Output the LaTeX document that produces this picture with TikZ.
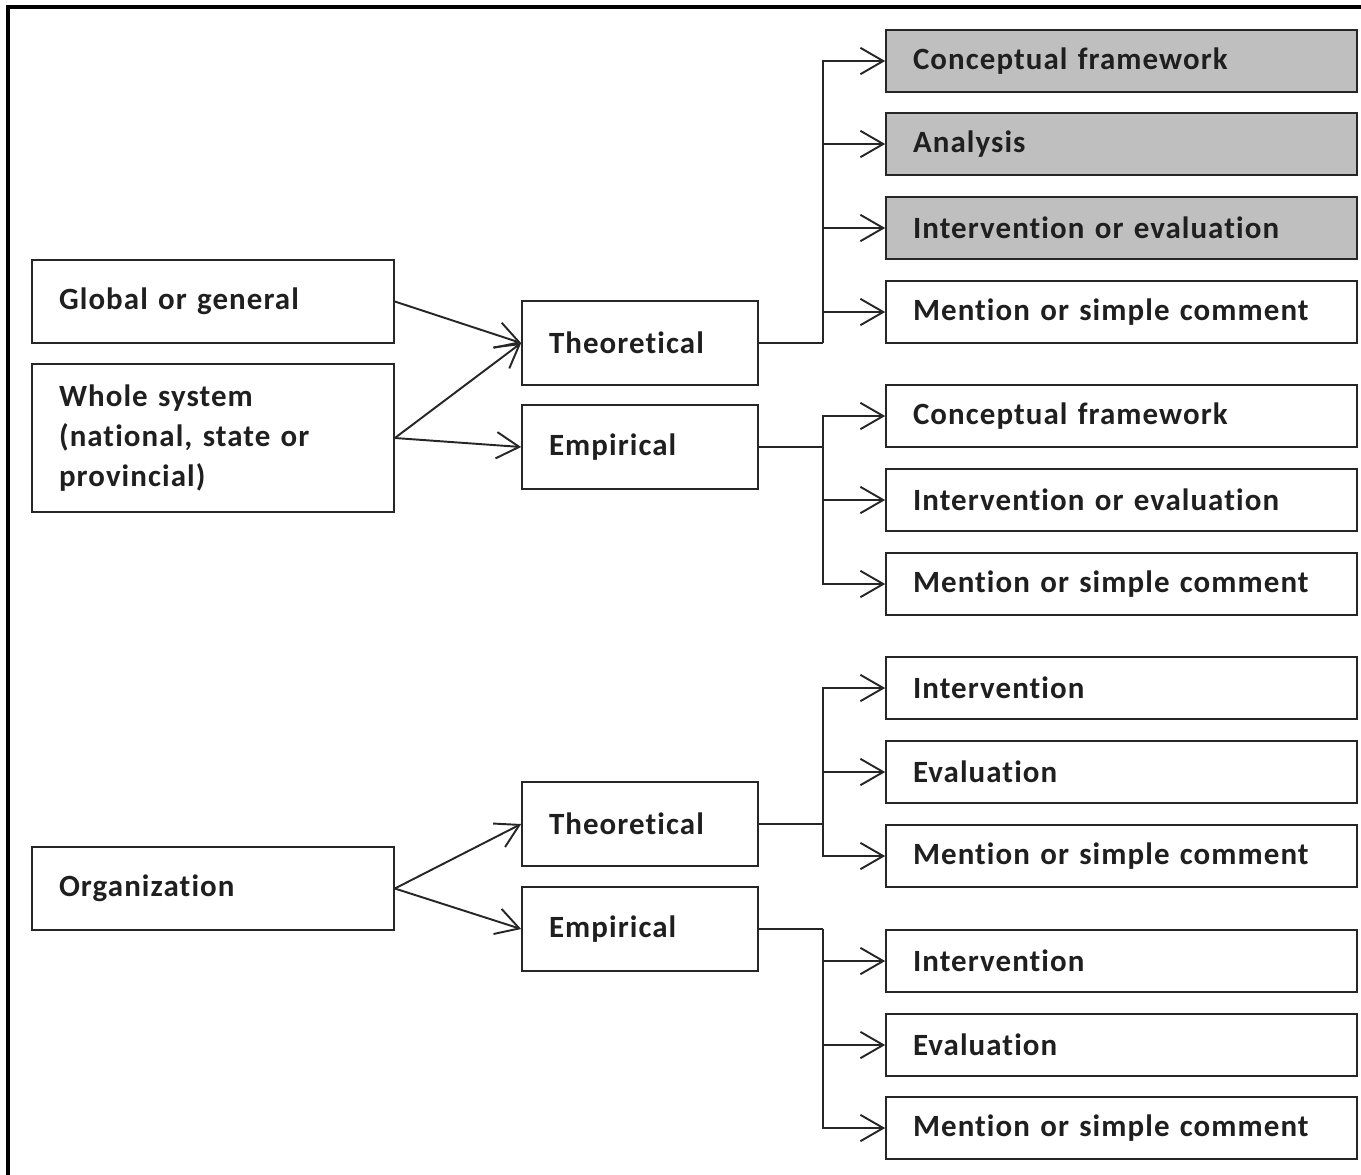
\documentclass[tikz,border=0pt]{standalone}
\usepackage{fontspec}
\setmainfont{Carlito}[Ligatures=NoCommon,WordSpace=0.6,LetterSpace=3.5]
\usetikzlibrary{arrows.meta}

\tikzset{
  box/.style={draw=black!85,line width=1pt,text=black!88,align=left,
    inner xsep=0.54cm,inner ysep=0pt,font=\fontsize{17.6}{22.7}\selectfont\bfseries},
  leftbox/.style={box,text width=6.16cm,minimum height=1.66cm},
  midbox/.style={box,text width=3.64cm,minimum height=1.68cm},
  outbox/.style={box,text width=8.34cm,minimum height=1.24cm},
  shaded/.style={fill=black!25},
  link/.style={draw=black!85,line width=1.1pt},
  arr/.style={link,-{Straight Barb[length=13pt,width=15pt,line width=1.1pt]}}
}

\begin{document}
\begin{tikzpicture}[x=0.02cm,y=-0.02cm]
\useasboundingbox (0,0) rectangle (1361,1174);
% frame
\draw[line width=2.3pt] (8,1190) -- (8,7) -- (1380,7);

% sources
\node[leftbox] (glob) at (213,301.5) {Global or general};
\node[leftbox,minimum height=2.96cm] (whole) at (213,438) {Whole system\\(national, state or\\provincial)};
\node[leftbox] (org) at (213,888.5) {Organization};

% kind of study
\node[midbox] (theoA) at (640,343) {Theoretical};
\node[midbox] (empA) at (640,447) {Empirical};
\node[midbox] (theoB) at (640,824) {Theoretical};
\node[midbox] (empB) at (640,929) {Empirical};

% type of mention
\node[outbox,shaded] (cfA) at (1121.5,61) {Conceptual framework};
\node[outbox,shaded] (anA) at (1121.5,144) {Analysis};
\node[outbox,shaded] (ieA) at (1121.5,228) {Intervention or evaluation};
\node[outbox] (mcA) at (1121.5,312) {Mention or simple comment};
\node[outbox] (cfE) at (1121.5,416) {Conceptual framework};
\node[outbox] (ieE) at (1121.5,500) {Intervention or evaluation};
\node[outbox] (mcE) at (1121.5,584) {Mention or simple comment};
\node[outbox] (inB) at (1121.5,688) {Intervention};
\node[outbox] (evB) at (1121.5,772) {Evaluation};
\node[outbox] (mcB) at (1121.5,856) {Mention or simple comment};
\node[outbox] (inF) at (1121.5,961) {Intervention};
\node[outbox] (evF) at (1121.5,1045) {Evaluation};
\node[outbox] (mcF) at (1121.5,1128) {Mention or simple comment};

% left arrows
\draw[arr] (glob.east) -- (theoA.west);
\draw[arr] (whole.east) -- (theoA.west);
\draw[arr] (whole.east) -- (empA.west);
\draw[arr] (org.east) -- (theoB.west);
\draw[arr] (org.east) -- (empB.west);

% branches
\draw[link] (theoA.east) -- ++(64,0) coordinate (busA);
\draw[link] (empA.east) -- ++(64,0) coordinate (busE);
\draw[link,line width=1.6pt] (theoB.east) -- ++(64,0) coordinate (busB);
\draw[link] (empB.east) -- ++(64,0) coordinate (busF);
\foreach \t in {cfA,anA,ieA,mcA} \draw[arr] (busA) |- (\t.west);
\foreach \t in {cfE,ieE,mcE} \draw[arr] (busE) |- (\t.west);
\foreach \t in {inB,evB,mcB} \draw[arr] (busB) |- (\t.west);
\foreach \t in {inF,evF,mcF} \draw[arr] (busF) |- (\t.west);
\end{tikzpicture}
\end{document}
